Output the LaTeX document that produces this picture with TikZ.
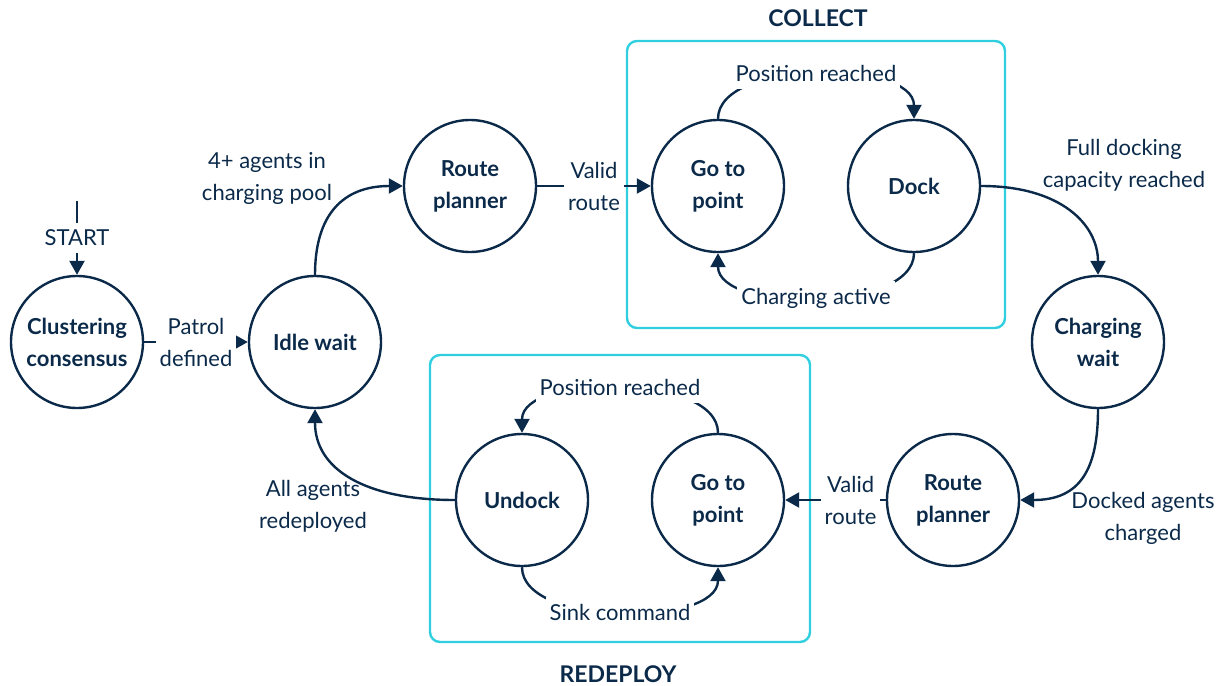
\documentclass[tikz,border=0pt]{standalone}
\usepackage{fontspec}
\setmainfont{Lato}
\usepackage{tikz}
\usetikzlibrary{arrows.meta,positioning}
\definecolor{navy}{HTML}{0B2A4A}
\definecolor{phasecyan}{HTML}{30CFE0}

\begin{document}
\begin{tikzpicture}[x=0.5pt, y=-0.5pt,
    font=\fontsize{11}{16}\selectfont,
    state/.style={circle, draw=navy, line width=1.2pt, minimum size=66pt,
      inner sep=0pt, text=navy, align=center, font=\fontsize{11}{16}\selectfont\bfseries},
    trans/.style={draw=navy, line width=1.2pt, -{Triangle[length=7pt,width=7.5pt]}},
    lbl/.style={text=navy, align=center, fill=white, inner xsep=2pt, inner ysep=3.5pt},
    note/.style={text=navy, align=center},
    phase/.style={draw=phasecyan, line width=1.2pt, rounded corners=5pt},
    title/.style={text=navy, font=\fontsize{11.5}{14}\selectfont\bfseries}]
  \useasboundingbox (0,0) rectangle (1222,686);
  % Phase boxes
  \draw[phase] (627,41) rectangle (1005,328);
  \draw[phase] (430,355) rectangle (810,642);
  \node[title] (collect) at (818,18) {COLLECT};
  \node[title] (redeploy) at (618,674) {REDEPLOY};
  % States
  \node[state] (cc) at (77,342) {Clustering\\consensus};
  \node[state] (idle) at (315,342) {Idle wait};
  \node[state] (rp1) at (470,186) {Route\\planner};
  \node[state] (go1) at (718,186) {Go to\\point};
  \node[state] (dock) at (914,186) {Dock};
  \node[state] (cw) at (1098,342) {Charging\\wait};
  \node[state] (rp2) at (953,500) {Route\\planner};
  \node[state] (go2) at (718,500) {Go to\\point};
  \node[state] (undock) at (522,500) {Undock};
  % Start
  \coordinate (start) at (77,201);
  \draw[trans] (start) -- node[lbl] {START} (cc);
  \draw[trans] (cc) -- node[lbl] {Patrol\\defined} (idle);
  % Collect phase
  \draw[trans] (idle.north) .. controls +(0,-60) and +(-60,0) .. (rp1.west);
  \node[note] (fourplus) at (267,178) {4+ agents in\\charging pool};
  \draw[trans] (rp1) -- node[lbl] {Valid\\route} (go1);
  \draw[trans] (go1.north) .. controls +(0,-60) and +(0,-60) .. node[lbl] {Position reached} (dock.north);
  \draw[trans] (dock.south) .. controls +(0,60) and +(0,60) .. node[lbl] {Charging active} (go1.south);
  \draw[trans] (dock.east) .. controls +(80,0) and +(0,-50) .. (cw.north);
  \node[note] (fullcap) at (1124,165) {Full docking\\capacity reached};
  % Redeploy phase
  \draw[trans] (cw.south) .. controls +(0,60) and +(60,0) .. (rp2.east);
  \node[note] (docked) at (1143,518) {Docked agents\\charged};
  \draw[trans] (rp2) -- node[lbl, pos=0.35] {Valid\\route} (go2);
  \draw[trans] (go2.north) .. controls +(0,-60) and +(0,-60) .. node[lbl] {Position reached} (undock.north);
  \draw[trans] (undock.south) .. controls +(0,60) and +(0,60) .. node[lbl] {Sink command} (go2.south);
  \draw[trans] (undock.west) .. controls +(-90,0) and +(0,60) .. (idle.south);
  \node[note] (allred) at (313,506) {All agents\\redeployed};
\end{tikzpicture}
\end{document}
